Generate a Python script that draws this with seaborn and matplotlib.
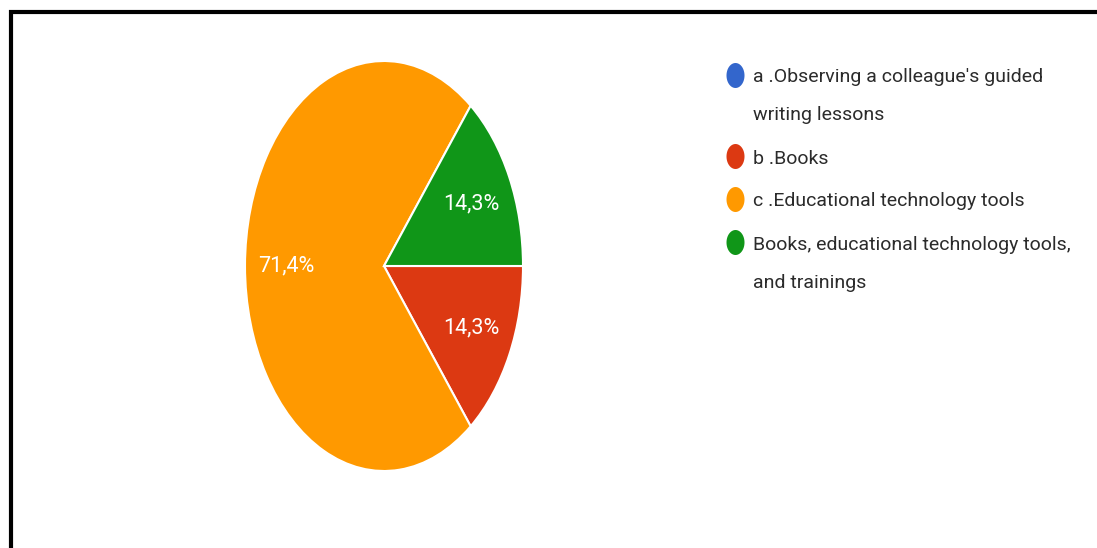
import numpy as np
import matplotlib
matplotlib.use("Agg")
import matplotlib.pyplot as plt
from matplotlib.path import Path
import seaborn as sns

# Survey answers and their share of responses
categories = [
    "a .Observing a colleague's guided\nwriting lessons",
    "b .Books",
    "c .Educational technology tools",
    "Books, educational technology tools,\nand trainings",
]
responses = [0, 1, 5, 1]
slice_colors = ["#3366cc", "#dc3912", "#ff9900", "#109618"]

sns.set_theme(style="white")
plt.rcParams["font.family"] = ["Roboto", "DejaVu Sans"]

W, H = 1097, 548
fig = plt.figure(figsize=(W / 100, H / 100), dpi=100)
fig.patch.set_facecolor("white")

# Pie, drawn in an axes that is taller than wide
pie_ax = fig.add_axes([245 / W, 1 - 471 / H, 278 / W, 410 / H])


def pct_label(p):
    return "" if p < 0.05 else f"{p:.1f}%".replace(".", ",")


wedges, texts, autotexts = pie_ax.pie(
    responses,
    colors=slice_colors,
    startangle=0,
    counterclock=False,
    autopct=pct_label,
    pctdistance=0.7,
    wedgeprops=dict(edgecolor="white", linewidth=1.5),
    textprops=dict(color="white", fontsize=15.5),
)
pie_ax.set_aspect("auto")
pie_ax.set_xlim(-1, 1)
pie_ax.set_ylim(-1, 1)
pie_ax.axis("off")

# Overlay in pixel units for legend and frame
ov = fig.add_axes([0, 0, 1, 1])
ov.set_xlim(0, W)
ov.set_ylim(H, 0)
ov.axis("off")

# Legend: tall ellipse markers, wrapped labels
theta = np.linspace(0, 2 * np.pi, 60)
ell = Path(np.column_stack([0.72 * np.cos(theta), np.sin(theta)]), closed=True)

line_h = 38
gap = 43
y = 75
for label, color in zip(categories, slice_colors):
    ov.scatter([735], [y], marker=ell, s=18 ** 2, color=color, linewidths=0)
    for i, part in enumerate(label.split("\n")):
        ov.text(753, y + 7.5 + i * line_h, part, color="#2b2b2b",
                fontsize=14, va="baseline", ha="left")
    y += line_h * label.count("\n") + gap

# Frame on left and top
ov.plot([10.5, 10.5, W + 5], [H + 5, 11.5, 11.5], color="black", lw=3,
        clip_on=False, solid_joinstyle="miter")

fig.savefig("out.png", dpi=100, facecolor="white")
